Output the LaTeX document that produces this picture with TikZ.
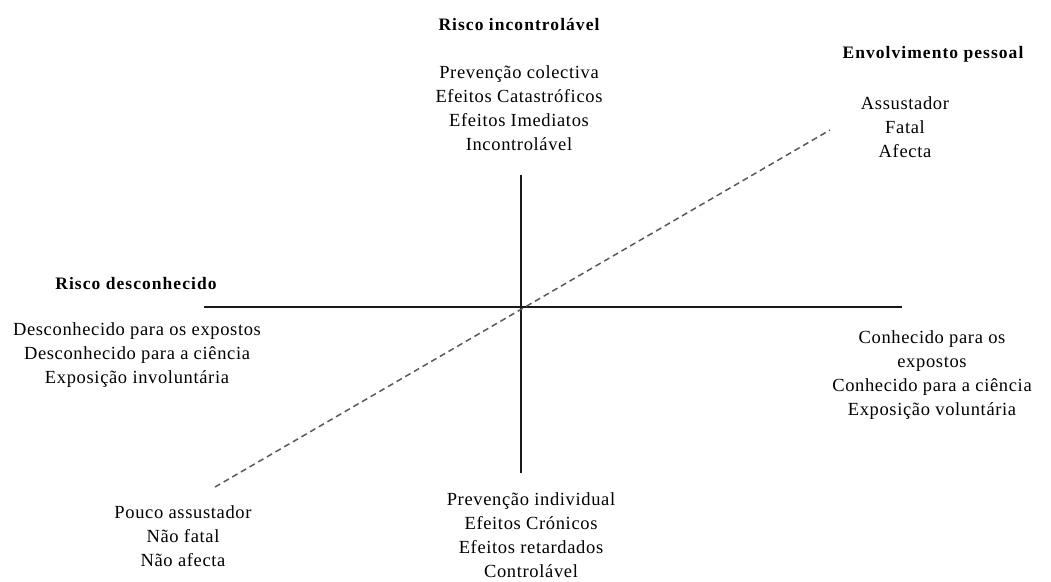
\documentclass[tikz,border=0pt]{standalone}
\usepackage{fontspec}
\setmainfont{Liberation Serif}
\begin{document}
\begin{tikzpicture}[x=1pt,y=-1pt,
  lbl/.style={align=center,font=\fontsize{18.5}{24}\selectfont\addfontfeature{LetterSpace=3.5},inner sep=0pt},
  hd/.style={font=\fontsize{17.5}{18}\selectfont\bfseries\addfontfeature{LetterSpace=6},inner sep=0pt},
  axis/.style={line width=1.8pt,black!90},
  dline/.style={line width=1.5pt,black!65,dash pattern=on 6pt off 4pt}]
\useasboundingbox (0,0) rectangle (1051,581);
\coordinate (vt) at (521,175);
\coordinate (vb) at (521,473);
\coordinate (hl) at (204,307);
\coordinate (hr) at (902,307);
\coordinate (dl) at (215,487);
\coordinate (dr) at (830,130);
\draw[axis] (vt) -- (vb);
\draw[axis] (hl) -- (hr);
\draw[dline] (dl) -- (dr);
\node[hd] (h1) at (519,25) {Risco incontrolável};
\node[hd] (h2) at (933,54) {Envolvimento pessoal};
\node[hd] (h3) at (136,284) {Risco desconhecido};
\node[lbl] (t) at (519,108.5) {Prevenção colectiva\\Efeitos Catastróficos\\Efeitos Imediatos\\Incontrolável};
\node[lbl] (tr) at (905,127.5) {Assustador\\Fatal\\Afecta};
\node[lbl] (l) at (137,355.5) {Desconhecido para os expostos\\Desconhecido para a ciência\\Exposição involuntária};
\node[lbl] (r) at (932,375) {Conhecido para os\\expostos\\Conhecido para a ciência\\Exposição voluntária};
\node[lbl] (bl) at (183,536) {Pouco assustador\\Não fatal\\Não afecta};
\node[lbl] (b) at (531,535) {Prevenção individual\\Efeitos Crónicos\\Efeitos retardados\\Controlável};
\end{tikzpicture}
\end{document}
